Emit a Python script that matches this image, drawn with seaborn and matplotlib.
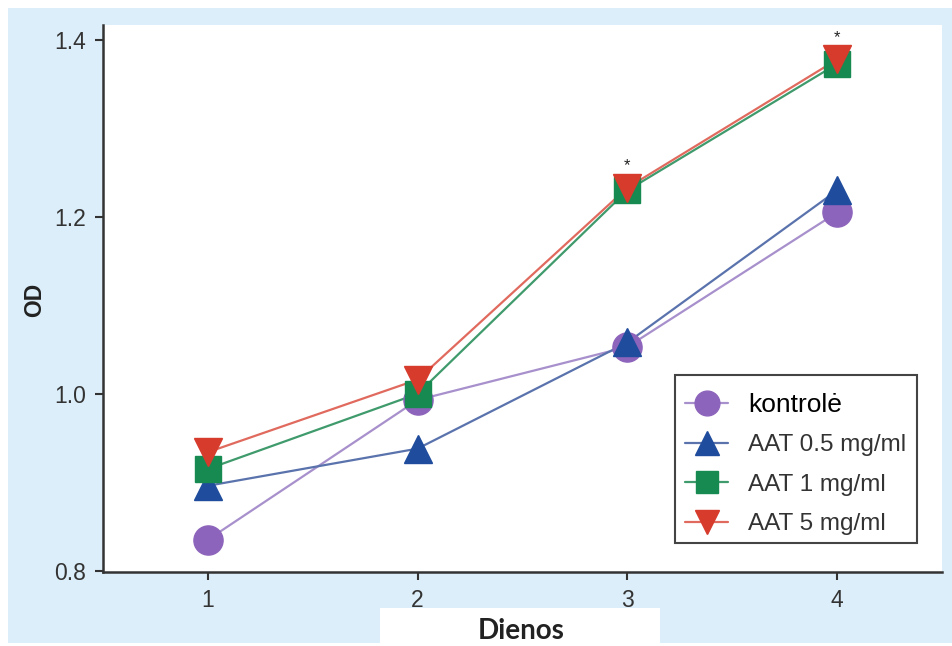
import matplotlib
matplotlib.use("Agg")
import matplotlib.pyplot as plt
import seaborn as sns
import pandas as pd
from matplotlib.patches import Rectangle
from matplotlib.lines import Line2D

days = [1, 2, 3, 4]
kontrole = [0.835, 0.993, 1.053, 1.205]
aat_05 = [0.896, 0.938, 1.058, 1.230]
aat_1 = [0.915, 1.000, 1.230, 1.373]
aat_5 = [0.934, 1.016, 1.233, 1.378]
series_names = ["kontrolė", "AAT 0.5 mg/ml", "AAT 1 mg/ml", "AAT 5 mg/ml"]
star_days = [3, 4]
yticks = [0.8, 1.0, 1.2, 1.4]

rows = []
for name, vals in zip(series_names, [kontrole, aat_05, aat_1, aat_5]):
    for d, v in zip(days, vals):
        rows.append({"Dienos": d, "OD": v, "grupe": name})
df = pd.DataFrame(rows)

sns.set_style("white")
plt.rcParams["font.family"] = ["Liberation Sans", "DejaVu Sans"]

W, H = 953, 646
fig = plt.figure(figsize=(9.53, 6.46), dpi=100)
fig.patch.set_facecolor("white")
fig.patches.append(Rectangle((8 / W, 3 / H), 945 / W, 635 / H,
                             transform=fig.transFigure, facecolor="#dceef9",
                             edgecolor="none", zorder=-10))
fig.patches.append(Rectangle((380 / W, 0), 280 / W, 38 / H,
                             transform=fig.transFigure, facecolor="white",
                             edgecolor="none", zorder=-9))

AX_L, AX_R, AX_T, AX_B = 103, 942, 25, 572
ax = fig.add_axes([AX_L / W, 1 - AX_B / H, (AX_R - AX_L) / W, (AX_B - AX_T) / H])
ax.set_zorder(2)
ax.set_facecolor("white")

palette = {"kontrolė": "#8d64bb", "AAT 0.5 mg/ml": "#1f4c9c",
           "AAT 1 mg/ml": "#178a52", "AAT 5 mg/ml": "#d63b2c"}
line_colors = {"kontrolė": "#a790cc", "AAT 0.5 mg/ml": "#5a73ad",
               "AAT 1 mg/ml": "#3f9a6c", "AAT 5 mg/ml": "#e06a5e"}
markers = {"kontrolė": "o", "AAT 0.5 mg/ml": "^",
           "AAT 1 mg/ml": "s", "AAT 5 mg/ml": "v"}
msize = {"kontrolė": 21, "AAT 0.5 mg/ml": 19.5, "AAT 1 mg/ml": 18.5, "AAT 5 mg/ml": 19.5}

for name in series_names:
    sub = df[df["grupe"] == name]
    sns.lineplot(data=sub, x="Dienos", y="OD", ax=ax, color=line_colors[name],
                 linewidth=1.6, legend=False)
for name in series_names:
    sub = df[df["grupe"] == name]
    ax.plot(sub["Dienos"], sub["OD"], linestyle="none", marker=markers[name],
            markersize=msize[name], markerfacecolor=palette[name],
            markeredgecolor=palette[name], zorder=3)

for d in star_days:
    top = max(aat_1[d - 1], aat_5[d - 1])
    ax.text(d, top + 0.025, "*", ha="center", va="center", fontsize=12,
            color="#222222")

ax.set_xlim(0.5, 4.5)
ax.set_ylim(0.7985, 1.417)
ax.set_xticks(days)
ax.set_yticks(yticks)
ax.set_yticklabels([f"{v:.1f}" for v in yticks])
ax.tick_params(axis="both", direction="out", length=6, width=1.5,
               color="#333333", labelsize=16.5, labelcolor="#333333", pad=6,
               left=True, bottom=True)
for s in ["top", "right"]:
    ax.spines[s].set_visible(False)
for s in ["left", "bottom"]:
    ax.spines[s].set_color("#333333")
    ax.spines[s].set_linewidth(1.8)

ax.set_xlabel("")
ax.set_ylabel("")
fig.text(521 / W, 1 - 639 / H, "Dienos", ha="center", va="baseline",
         fontsize=20, fontweight="bold", color="#222222", zorder=5,
         family=["Lato", "DejaVu Sans"])
fig.text(35 / W, 1 - 300 / H, "OD", ha="center", va="center",
         fontsize=16.5, fontweight="bold", rotation=90, color="#222222")

# legend frame drawn manually to match the reference box
def ax_x(px):
    return (px - AX_L) / (AX_R - AX_L)

def ax_y(py):
    return 1 - (py - AX_T) / (AX_B - AX_T)

frame = Rectangle((ax_x(675), ax_y(543)), ax_x(917) - ax_x(675),
                  ax_y(375) - ax_y(543), transform=ax.transAxes,
                  facecolor="white", edgecolor="#444444", linewidth=1.5,
                  zorder=4, clip_on=False)
ax.add_patch(frame)

handles = [Line2D([0], [0], color=line_colors[n], lw=1.6, marker=markers[n],
                  markersize=msize[n] * 0.85, markerfacecolor=palette[n],
                  markeredgecolor=palette[n]) for n in series_names]
leg = ax.legend(handles, series_names, loc="upper left",
                bbox_to_anchor=(ax_x(675), ax_y(383)),
                frameon=False, fontsize=17.5, handlelength=1.8,
                handletextpad=0.8, labelspacing=0.72, borderpad=0.4,
                borderaxespad=0)
leg.set_zorder(5)
texts = leg.get_texts()
texts[0].set_color("black")
texts[0].set_fontsize(19)
for t in texts[1:]:
    t.set_color("#333333")

fig.savefig("out.png", dpi=100, facecolor=fig.get_facecolor())
